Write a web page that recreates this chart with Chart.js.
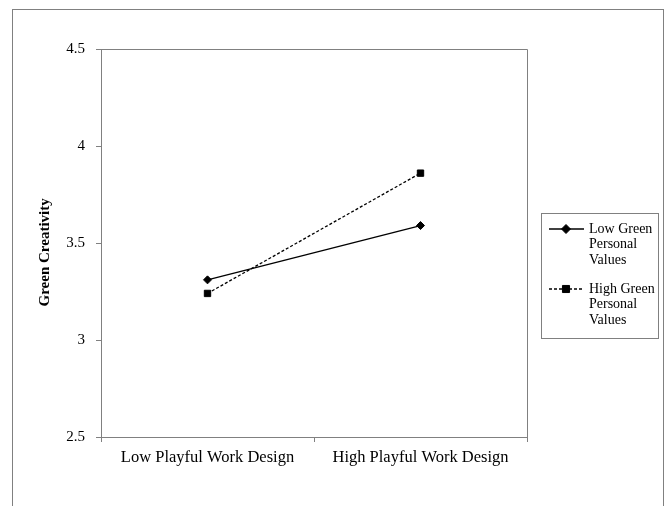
<!DOCTYPE html>
<html>
<head>
<meta charset="utf-8">
<script src="https://cdn.jsdelivr.net/npm/chart.js@4"></script>
<style>
    html, body { margin: 0; padding: 0; background: #fff; }
    #wrap { width: 667px; height: 506px; position: relative; }
</style>
</head>
<body>
<div id="wrap"><canvas id="chart" width="667" height="506"></canvas></div>
<script>
// Data
const categories = ['Low Playful Work Design', 'High Playful Work Design'];
const lowGreenValues = [3.31, 3.59];
const highGreenValues = [3.24, 3.86];
const yTicks = [2.5, 3, 3.5, 4, 4.5];
const seriesNames = [['Low Green', 'Personal', 'Values'], ['High Green', 'Personal', 'Values']];

const axisGray = '#808080';
const serif = "'Liberation Serif', 'Times New Roman', serif";

// Outer frame, top/right plot border and the boxed legend
const framePlugin = {
    id: 'frame',
    afterDraw(chart) {
        const ctx = chart.ctx;
        const area = chart.chartArea;
        ctx.save();
        ctx.strokeStyle = axisGray;
        ctx.lineWidth = 1;
        // outer frame (open at the bottom)
        ctx.strokeRect(12.5, 9.5, 651, 600);
        // plot box top + right
        ctx.beginPath();
        ctx.moveTo(area.left, Math.round(area.top) + 0.5);
        ctx.lineTo(Math.round(area.right) + 0.5, Math.round(area.top) + 0.5);
        ctx.lineTo(Math.round(area.right) + 0.5, area.bottom);
        ctx.stroke();

        // legend
        ctx.strokeRect(541.5, 213.5, 117, 125);
        ctx.font = '14px ' + serif;
        ctx.textBaseline = 'middle';
        const rows = [229, 289];
        chart.data.datasets.forEach((ds, i) => {
            const y = rows[i];
            ctx.save();
            ctx.strokeStyle = '#000';
            ctx.fillStyle = '#000';
            ctx.lineWidth = 1.3;
            ctx.setLineDash(ds.borderDash || []);
            ctx.beginPath();
            ctx.moveTo(549, y);
            ctx.lineTo(584, y);
            ctx.stroke();
            ctx.setLineDash([]);
            ctx.lineWidth = 1;
            Chart.helpers.drawPoint(ctx, {
                pointStyle: ds.pointStyle,
                radius: ds.pointRadius + 0.5,
                borderWidth: 1
            }, 566, y);
            ctx.restore();
            ctx.fillStyle = '#000';
            seriesNames[i].forEach((line, k) => {
                ctx.fillText(line, 589, y + k * 15.5);
            });
        });
        ctx.restore();
    }
};

new Chart(document.getElementById('chart'), {
    type: 'line',
    data: {
        labels: categories,
        datasets: [
            {
                label: 'Low Green Personal Values',
                data: lowGreenValues,
                borderColor: '#000',
                backgroundColor: '#000',
                borderWidth: 1.3,
                pointStyle: 'rectRot',
                pointRadius: 4,
                pointBorderWidth: 1,
                tension: 0
            },
            {
                label: 'High Green Personal Values',
                data: highGreenValues,
                borderColor: '#000',
                backgroundColor: '#000',
                borderWidth: 1.3,
                borderDash: [3, 2],
                pointStyle: 'rect',
                pointRadius: 4.5,
                pointBorderWidth: 1,
                tension: 0
            }
        ]
    },
    options: {
        responsive: false,
        animation: false,
        layout: {
            padding: { left: 0, top: 49, right: 140, bottom: 0 }
        },
        plugins: {
            legend: { display: false },
            tooltip: { enabled: false }
        },
        scales: {
            x: {
                offset: true,
                grid: {
                    offset: true,
                    drawOnChartArea: false,
                    drawTicks: true,
                    tickLength: 5,
                    color: axisGray
                },
                border: { color: axisGray },
                ticks: {
                    color: '#000',
                    padding: 6,
                    font: { family: serif, size: 16.5 }
                },
                afterFit(scale) { scale.height = 69; }
            },
            y: {
                min: 2.5,
                max: 4.5,
                afterBuildTicks(scale) {
                    scale.ticks = yTicks.map(v => ({ value: v }));
                },
                grid: {
                    drawOnChartArea: false,
                    drawTicks: true,
                    tickLength: 5,
                    color: axisGray
                },
                border: { color: axisGray },
                ticks: {
                    color: '#000',
                    padding: 11,
                    font: { family: serif, size: 15 },
                    callback: (v) => String(v)
                },
                title: {
                    display: true,
                    // trailing spaces nudge the title down like in the original
                    text: 'Green Creativity     ',
                    color: '#000',
                    font: { family: serif, size: 15, weight: 'bold' },
                    padding: { top: 36, bottom: 0 }
                },
                afterFit(scale) { scale.width = 101; }
            }
        }
    },
    plugins: [framePlugin]
});
</script>
</body>
</html>
